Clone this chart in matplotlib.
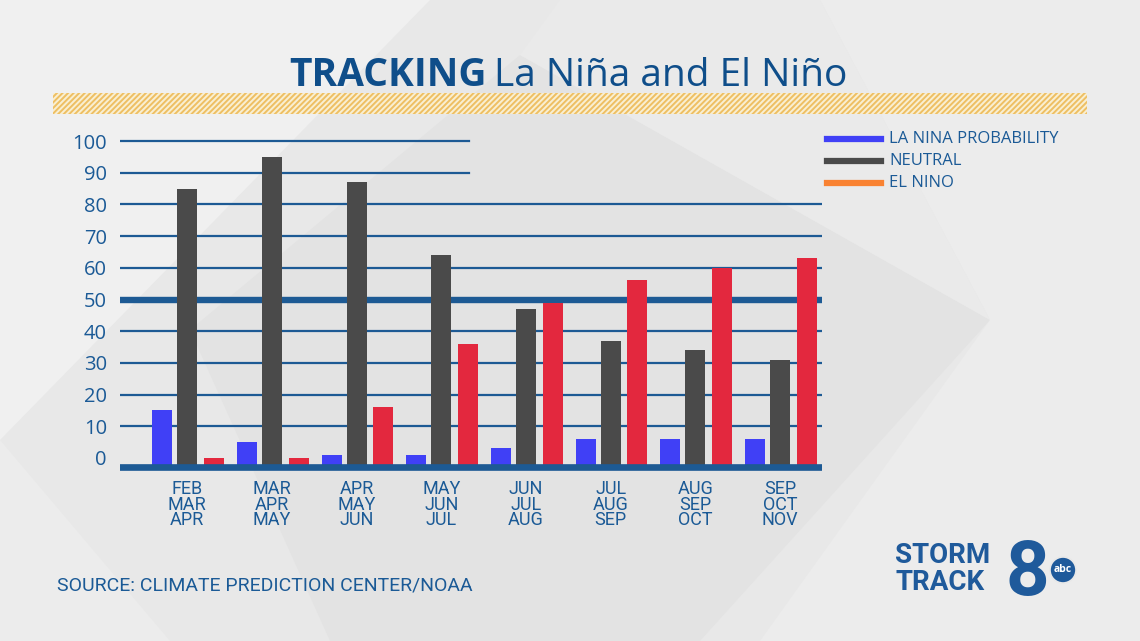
import numpy as np
import matplotlib
matplotlib.use("Agg")
import matplotlib.pyplot as plt
from matplotlib.patches import Polygon, Rectangle, Ellipse
from matplotlib.lines import Line2D

# ---------------- data ----------------
seasons = ["FEB\nMAR\nAPR", "MAR\nAPR\nMAY", "APR\nMAY\nJUN", "MAY\nJUN\nJUL",
           "JUN\nJUL\nAUG", "JUL\nAUG\nSEP", "AUG\nSEP\nOCT", "SEP\nOCT\nNOV"]
la_nina = [15, 5, 1, 1, 3, 6, 6, 6]
neutral = [85, 95, 87, 64, 47, 37, 34, 31]
el_nino = [0, 0, 16, 36, 49, 56, 60, 63]
yticks = [0, 10, 20, 30, 40, 50, 60, 70, 80, 90, 100]
legend_labels = ["LA NINA PROBABILITY", "NEUTRAL", "EL NINO"]

# ---------------- style ----------------
W, H = 1140, 641
BLUE_TXT = "#1b5a96"
GRID = "#1d5a94"
C_LN = "#4040f6"
C_N = "#4a4a4a"
C_EN = "#e3283e"
C_EN_LEG = "#f98232"
BASE = -2.84

plt.rcParams["font.family"] = ["Open Sans", "DejaVu Sans"]
plt.rcParams["hatch.linewidth"] = 1.4

fig = plt.figure(figsize=(W / 100, H / 100), dpi=100)
fig.patch.set_facecolor("#e8e8e8")


def fx(px):
    return px / W


def fy(py):
    return 1 - py / H


def poly(pts, color):
    fig.add_artist(Polygon([(fx(x), fy(y)) for x, y in pts], closed=True,
                           transform=fig.transFigure, facecolor=color,
                           edgecolor="none", zorder=0))


# background geometric shapes (subtle)
poly([(0, 0), (430, 0), (0, 440)], "#f0f0f0")
poly([(0, 440), (170, 641), (0, 641)], "#ececec")
poly([(520, 55), (990, 320), (700, 641), (330, 641), (190, 330)], "#e3e3e3")
poly([(820, 0), (1140, 0), (1140, 641), (760, 641), (990, 320)], "#ececec")
poly([(560, 0), (820, 0), (990, 320), (520, 55)], "#eaeaea")

# title
fig.text(fx(487), fy(86), "TRACKING", ha="right", va="baseline",
         fontsize=28, fontweight="bold", color="#0f4e8a")
fig.text(fx(494), fy(86), "La Niña and El Niño", ha="left", va="baseline",
         fontsize=28, color="#0f4e8a")

# hatched stripe
fig.add_artist(Rectangle((fx(53), fy(114)), fx(1087) - fx(53), fy(93) - fy(114),
                         transform=fig.transFigure, facecolor="#f9efd2",
                         edgecolor="#eebf63", hatch="//////", lw=0, zorder=1))

# axes
ax = fig.add_axes([fx(120), fy(472), fx(822) - fx(120), fy(138) - fy(472)])
ax.set_facecolor("none")
x = np.arange(len(seasons))
ax.set_xlim(-0.793, 7.495)
ax.set_ylim(-4.42, 100.95)

bw = 0.236
ax.bar(x - 0.295, np.array(la_nina) - BASE, bottom=BASE, width=bw, color=C_LN, zorder=3)
ax.bar(x, np.array(neutral) - BASE, bottom=BASE, width=bw, color=C_N, zorder=3)
ax.bar(x + 0.316, np.array(el_nino) - BASE, bottom=BASE, width=bw, color=C_EN, zorder=3)

short = (469 - 120) / (822 - 120)
for v in yticks[1:]:
    if v == 50:
        ax.axhline(v, color=GRID, lw=4.6, zorder=2)
    elif v >= 90:
        ax.axhline(v, xmin=0, xmax=short, color=GRID, lw=1.6, zorder=2)
    else:
        ax.axhline(v, color=GRID, lw=1.6, zorder=2)
ax.axhline(BASE, color=GRID, lw=4.8, zorder=4)

ax.set_yticks(yticks)
ax.set_yticklabels([str(v) for v in yticks], fontsize=14.5, color=BLUE_TXT)
ax.set_xticks(x)
ax.set_xticklabels(seasons, fontsize=13, color=BLUE_TXT, linespacing=0.8,
                   family=["Liberation Sans Narrow", "Roboto", "DejaVu Sans"])
ax.tick_params(axis="y", length=0, pad=9.5)
ax.tick_params(axis="x", length=0, pad=6)
for s in ax.spines.values():
    s.set_visible(False)

# legend (manual)
leg_cols = [C_LN, C_N, C_EN_LEG]
leg_y = [139, 161, 183]
for lab, col, yy in zip(legend_labels, leg_cols, leg_y):
    fig.add_artist(Line2D([fx(827), fx(881)], [fy(yy), fy(yy)], lw=4.5,
                          color=col, transform=fig.transFigure))
    fig.text(fx(889), fy(yy), lab, ha="left", va="center", fontsize=12,
             color=BLUE_TXT)

# source
fig.text(fx(57), fy(585), "SOURCE: CLIMATE PREDICTION CENTER/NOAA", ha="left",
         va="center", fontsize=14, color=BLUE_TXT,
         family=["Liberation Sans Narrow", "Roboto", "DejaVu Sans"])

# logo
LOGO = "#1f5a9b"
fig.text(fx(895), fy(563), "STORM", ha="left", va="baseline", fontsize=20,
         fontweight="bold", color=LOGO, family=["Roboto", "DejaVu Sans"])
fig.text(fx(895), fy(590), "TRACK", ha="left", va="baseline", fontsize=20,
         fontweight="bold", color=LOGO, family=["Roboto", "DejaVu Sans"])
fig.text(fx(1027), fy(595), "8", ha="center", va="baseline", fontsize=55,
         fontweight="bold", color=LOGO, family=["Roboto", "DejaVu Sans"])
fig.add_artist(Ellipse((fx(1063), fy(570)), 26 / W, 26 / H,
                       transform=fig.transFigure, facecolor=LOGO,
                       edgecolor="#e8e8e8", lw=1.2, zorder=5))
fig.text(fx(1063), fy(570), "abc", ha="center", va="center", fontsize=7.5,
         fontweight="bold", color="white", zorder=6)

fig.savefig("out.png", dpi=100, facecolor=fig.get_facecolor())
